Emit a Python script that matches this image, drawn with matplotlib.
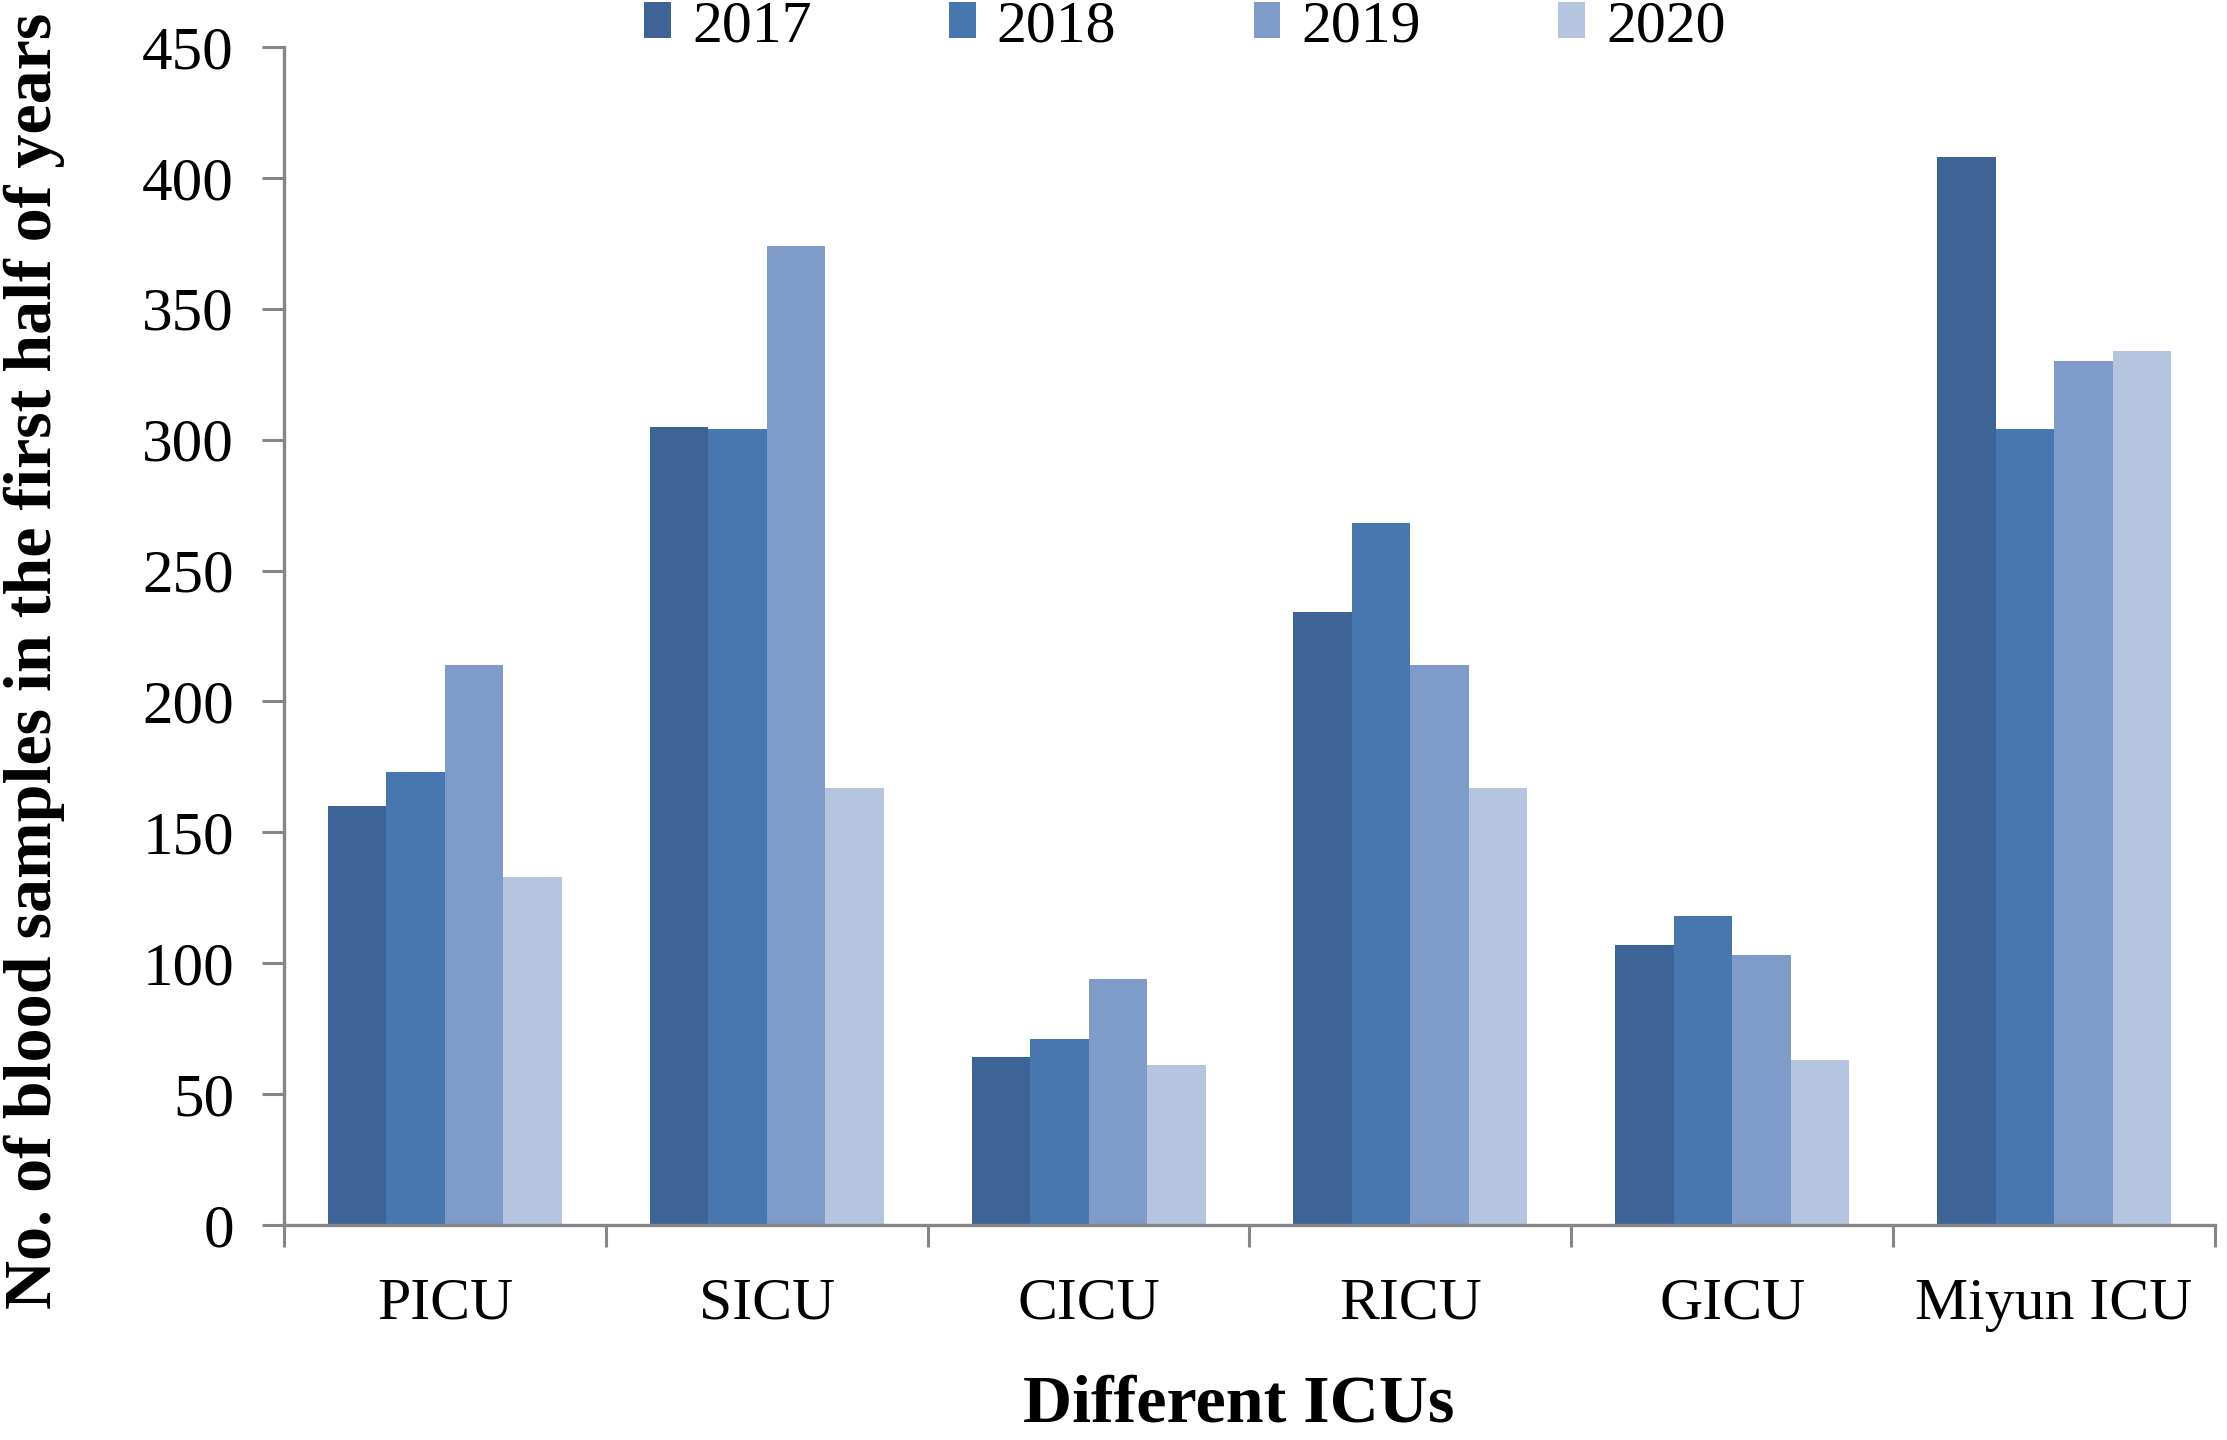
import numpy as np
import matplotlib
matplotlib.use("Agg")
import matplotlib.pyplot as plt
from matplotlib.ticker import FixedLocator, NullFormatter

plt.rcParams['font.family'] = ['Liberation Serif', 'DejaVu Serif']

icus = ["PICU", "SICU", "CICU", "RICU", "GICU", "Miyun ICU"]
years = ["2017", "2018", "2019", "2020"]
v2017 = [160, 305, 64, 234, 107, 408]
v2018 = [173, 304, 71, 268, 118, 304]
v2019 = [214, 374, 94, 214, 103, 330]
v2020 = [133, 167, 61, 167, 63, 334]
colors = ["#3E6396", "#4876AE", "#7E9BC9", "#B5C5E0"]

series = [v2017, v2018, v2019, v2020]

fig = plt.figure(figsize=(22.27, 14.4), dpi=100)
ax = fig.add_axes([0.1275, 0.1493, 0.9946 - 0.1275, 0.9674 - 0.1493])

x = np.arange(len(icus))
w = 1 / 5.5
for i, (vals, yr) in enumerate(zip(series, years)):
    ax.bar(x + (i - 1.5) * w, vals, width=w, color=colors[i], label=yr, linewidth=0)

ax.set_xlim(-0.5, len(icus) - 0.5)
ax.set_ylim(0, 450)
ax.set_yticks(np.arange(0, 451, 50))

# ticks at category boundaries, labels at centres
ax.xaxis.set_major_locator(FixedLocator(np.arange(-0.5, len(icus))))
ax.xaxis.set_major_formatter(NullFormatter())
ax.xaxis.set_minor_locator(FixedLocator(x))
ax.set_xticklabels(icus, minor=True)
ax.tick_params(axis='x', which='minor', length=0, pad=38, labelsize=43)
ax.tick_params(axis='x', which='major', length=16, width=2.2, color='#868686', direction='out')
ax.tick_params(axis='y', length=16, width=2.2, color='#868686', direction='out', pad=20, labelsize=44)

for s in ['top', 'right']:
    ax.spines[s].set_visible(False)
for s in ['left', 'bottom']:
    ax.spines[s].set_color('#868686')
    ax.spines[s].set_linewidth(2.4)

fig.text(0.0155, 0.541, "No. of blood samples in the first half of years", rotation=90,
         ha='center', va='center', fontsize=49, fontweight='bold')
fig.text(0.556, 0.024, "Different ICUs", ha='center', va='center',
         fontsize=49, fontweight='bold')

fig.legend(loc='center', bbox_to_anchor=(0.532, 0.981), ncol=4, frameon=False,
           fontsize=43, handlelength=0.45, handleheight=0.55, handletextpad=0.35,
           columnspacing=2.3, borderpad=0, borderaxespad=0)

fig.savefig("out.png", dpi=100)
